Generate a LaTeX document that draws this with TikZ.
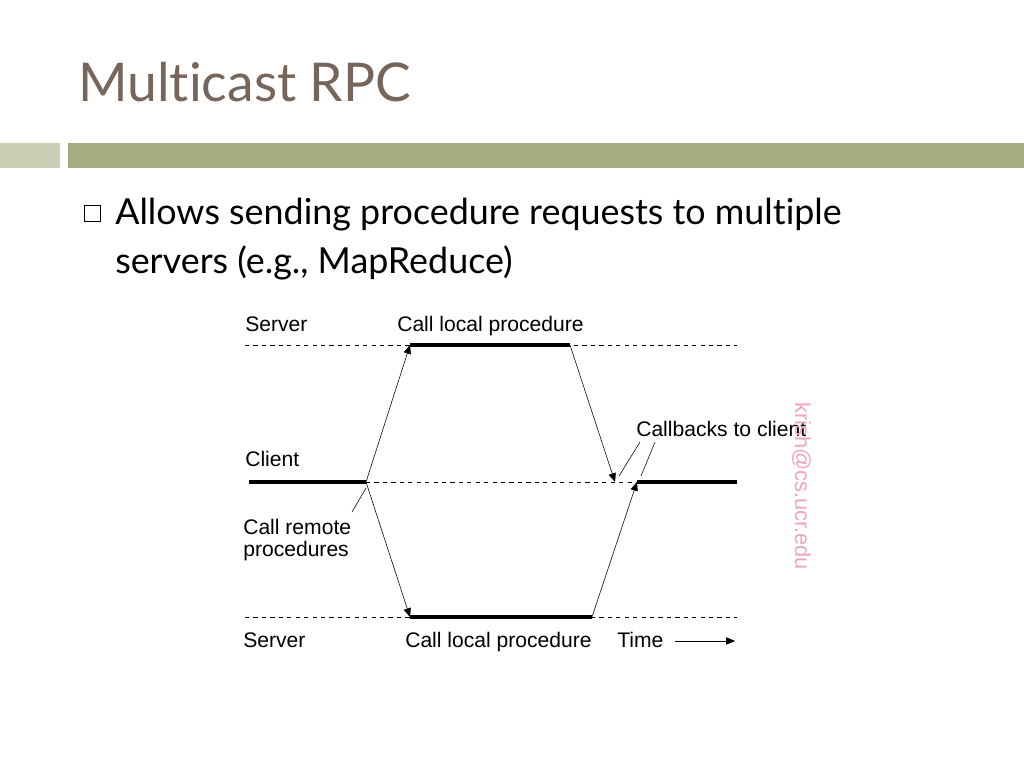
\documentclass[tikz,border=0pt]{standalone}
\usepackage{fontspec}
\setmainfont[Ligatures={NoCommon}]{Lato}
\newfontfamily\helv{Liberation Sans}
\usetikzlibrary{arrows,positioning}
\definecolor{titlebrown}{HTML}{76655A}
\definecolor{barlight}{HTML}{C9CFB4}
\definecolor{bardark}{HTML}{A3AD7F}
\definecolor{markpink}{HTML}{F2A5B5}
\begin{document}
\begin{tikzpicture}[x=0.025cm,y=-0.025cm]
\tikzstyle{diag texto}=[font=\helv\fontsize{15}{17}\selectfont,inner sep=0pt,anchor=base west]
\tikzstyle{linea}=[dashed,thin]
\tikzstyle{activo}=[line width=2.2pt]
\tikzstyle{flecha}=[-triangle 45,thin]
\useasboundingbox (0,0) rectangle (1024,768);
\fill[white] (0,0) rectangle (1024,768);
% title and bars
\node[anchor=base west,inner sep=0pt,text=titlebrown,font=\fontsize{38}{42}\selectfont] (titulo) at (78,102) {Multicast RPC};
\fill[barlight] (0,143) rectangle (60,168);
\fill[bardark] (68,143) rectangle (1024,168);
\draw[thin] (84,205) rectangle (100,221);
\node[anchor=base west,inner sep=0pt,font=\fontsize{25.5}{34}\selectfont] (texto1) at (115,224) {Allows sending procedure requests to multiple};
\node[anchor=base west,inner sep=0pt,font=\fontsize{25.5}{34}\selectfont] (texto2) at (115,273) {servers (e.g., MapReduce)};
% time lines
\coordinate (s1a) at (245,345); \coordinate (s1b) at (737,345);
\coordinate (s1i) at (410,345); \coordinate (s1f) at (570,345);
\coordinate (ca) at (249,482); \coordinate (cb) at (737,482);
\coordinate (ci) at (366,482); \coordinate (cr1) at (615,482); \coordinate (cr2) at (637,482);
\coordinate (s2a) at (245,617); \coordinate (s2b) at (737,617);
\coordinate (s2i) at (410,617); \coordinate (s2f) at (592,617);
\draw[linea] (s1a) -- (s1b);
\draw[linea] (ci) -- (cb);
\draw[linea] (s2a) -- (s2b);
\draw[activo] (s1i) -- (s1f);
\draw[activo] (ca) -- (ci);
\draw[activo] (cr2) -- (cb);
\draw[activo] (s2i) -- (s2f);
\draw[flecha] (ci) -- (s1i);
\draw[flecha] (ci) -- (s2i);
\draw[flecha] (s1f) -- (cr1);
\draw[flecha] (s2f) -- (cr2);
% labels
\node[diag texto] (srv1) at (245,331) {Server};
\node[diag texto] (loc1) at (397,331) {Call local procedure};
\node[diag texto] (cli) at (245,466) {Client};
\node[diag texto] (rem) at (243,534) {Call remote};
\node[diag texto] (rem2) at (243,556) {procedures};
\node[diag texto] (srv2) at (243,647) {Server};
\node[diag texto] (loc2) at (405,647) {Call local procedure};
\node[diag texto] (tiempo) at (617,647) {Time};
\coordinate (ta) at (675,641); \coordinate (tb) at (735,641);
\draw[flecha] (ta) -- (tb);
\node[diag texto] (cbk) at (636,436) {Callbacks to client};
\coordinate (cbl1) at (640,442); \coordinate (cbl2) at (655,442);
\coordinate (cbe1) at (619,476); \coordinate (cbe2) at (641,476);
\draw[thin] (cbl1) -- (cbe1);
\draw[thin] (cbl2) -- (cbe2);
\coordinate (rl) at (352,512); \coordinate (re) at (366,488);
\draw[thin] (rl) -- (re);
\node[text=markpink,rotate=-90,anchor=base west,inner sep=0pt,font=\helv\fontsize{15.5}{17}\selectfont] (marca) at (795,402) {krish@cs.ucr.edu};
\end{tikzpicture}
\end{document}
